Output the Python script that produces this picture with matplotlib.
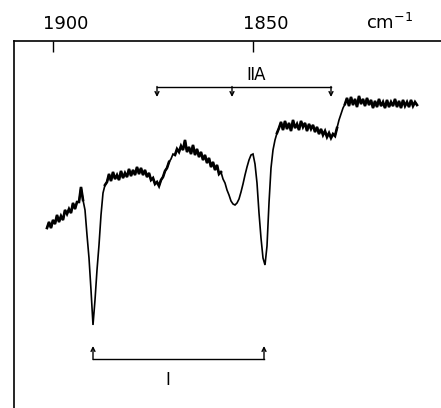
import numpy as np
import matplotlib
matplotlib.use("Agg")
import matplotlib.pyplot as plt
import matplotlib.transforms as mtransforms

# IR trace, sampled every 0.5 cm-1 starting at 1901.5 cm-1 (pen height, arb. units)
WN_START = 1901.5
WN_STEP = 0.5
signal = [
    180, 186, 180, 188, 184, 193, 186, 192, 188, 198, 194, 199, 195, 205, 199, 206, 206, 221,
    208, 198, 173, 150, 118, 83, 108, 138, 163, 193, 215, 223,
    226, 234, 227, 236, 229, 233, 228, 237, 230, 235, 231, 239, 232, 238, 233, 241, 234, 240,
    233, 238, 231, 235,
    228, 230, 224, 226, 222, 228, 231, 237, 240, 246, 249, 254, 253, 259, 256, 262, 258, 268,
    256, 261, 254, 263, 253, 259, 251, 256, 248, 253, 245, 250, 241, 246, 238, 243, 234, 236,
    229, 225, 218, 213, 207, 204, 203, 205, 209, 216, 224, 233, 241, 248, 253, 254,
    244, 225, 195, 170, 150, 143, 162, 205, 240, 258, 268, 275, 280,
    286, 278, 287, 279, 285, 277, 288, 280, 284, 278, 287, 281, 285, 277, 284, 279, 283, 276,
    281, 274, 279, 273, 277, 271, 275, 270, 274, 272, 280, 288, 294, 300, 304,
    310, 302, 311, 303, 309, 301, 312, 304, 309, 302, 310, 303, 308, 300, 307, 301, 309, 302,
    306, 300, 308, 301, 306, 302, 309, 301, 307, 300, 308, 302, 306, 301, 308, 302, 306, 303,
]
wavenumber = WN_START - WN_STEP * np.arange(len(signal))

# assignment brackets
band_IIA = [1874.0, 1855.25, 1830.5]
band_I = [1890.0, 1847.25]
ticks = [1900, 1850]
tick_labels = ["1900", "1850"]

# stretches where the recorder trace is a fuzzy (noisy) band
noisy = [(1901.5, 1892.3), (1887.3, 1871.0), (1869.5, 1858.0),
         (1844.0, 1829.0), (1827.0, 1809.0)]

fig = plt.figure(figsize=(4.41, 4.08), dpi=100)
ax = fig.add_axes([14 / 441, 0, 1 - 14 / 441, 1 - 41 / 408])

ax.plot(wavenumber, signal, color="black", lw=1.2, solid_joinstyle="miter")
sig = np.array(signal, dtype=float)
for hi, lo in noisy:
    m = (wavenumber <= hi) & (wavenumber >= lo)
    ax.plot(wavenumber[m], sig[m], color="black", lw=1.9, solid_joinstyle="miter")

# IIA bracket (above the trace, arrows pointing down)
y_line, y_tip = 321, 311
ax.plot([band_IIA[0], band_IIA[-1]], [y_line, y_line], color="black", lw=1.0)
for w in band_IIA:
    ax.annotate("", xy=(w, y_tip), xytext=(w, y_line + 0.5),
                arrowprops=dict(arrowstyle="->", lw=1.0, color="black",
                                mutation_scale=7, shrinkA=0, shrinkB=0))
ax.text(1849.2, 333, "ⅡA", ha="center", va="center", fontsize=12)

# I bracket (below the trace, arrows pointing up)
y_line, y_tip = 49, 62
ax.plot([band_I[0], band_I[-1]], [y_line, y_line], color="black", lw=1.0)
for w in band_I:
    ax.annotate("", xy=(w, y_tip), xytext=(w, y_line - 0.5),
                arrowprops=dict(arrowstyle="->", lw=1.0, color="black",
                                mutation_scale=7, shrinkA=0, shrinkB=0))
ax.text(1871.3, 28, "Ⅰ", ha="center", va="center", fontsize=12)

ax.set_xlim(1909.75, 1803)
ax.set_ylim(0, 367)

for side in ["bottom", "right"]:
    ax.spines[side].set_visible(False)
for side in ["top", "left"]:
    ax.spines[side].set_linewidth(1.2)

ax.set_yticks([])
ax.xaxis.set_ticks_position("top")
ax.set_xticks(ticks)
ax.set_xticklabels(tick_labels, fontsize=13)
ax.tick_params(axis="x", direction="in", length=8, width=1.0, pad=6)
offset = mtransforms.ScaledTranslation(13 / 100, 0, fig.dpi_scale_trans)
for lab in ax.get_xticklabels():
    lab.set_transform(lab.get_transform() + offset)

fig.text(390 / 441, 1 - 23 / 408, "cm$^{-1}$", ha="center", va="center", fontsize=13)

fig.savefig("out.png", dpi=100)
